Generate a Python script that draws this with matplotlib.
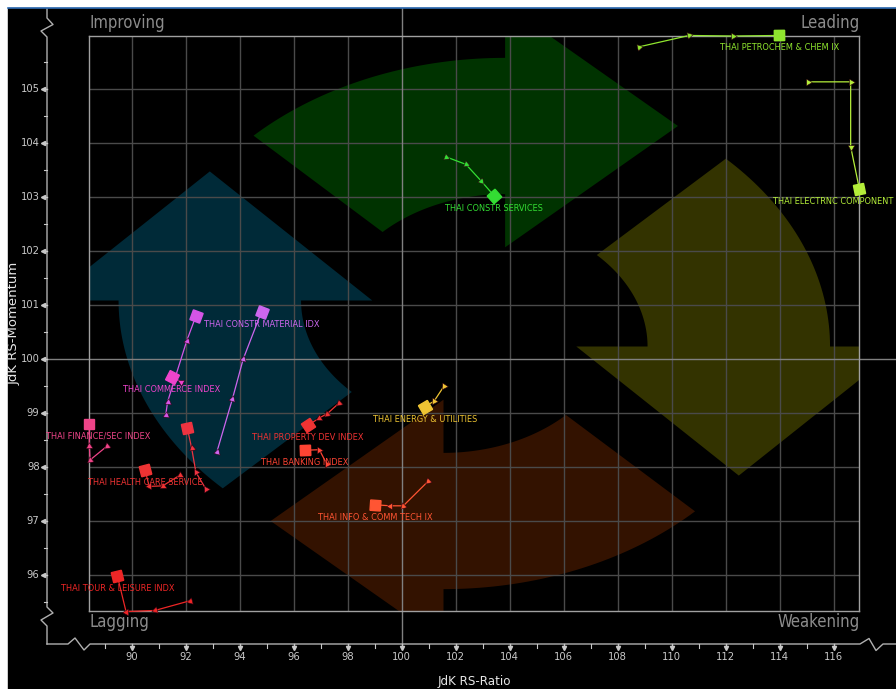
import numpy as np
import matplotlib
matplotlib.use("Agg")
import matplotlib.pyplot as plt
from matplotlib import font_manager, transforms
from matplotlib.patches import Polygon, Rectangle
from matplotlib.lines import Line2D

# narrow font for the Bloomberg look, fall back to condensed DejaVu
font_names = {f.name for f in font_manager.fontManager.ttflist}
if "Liberation Sans Narrow" in font_names:
    NARROW = dict(family="Liberation Sans Narrow")
else:
    NARROW = dict(family="DejaVu Sans", stretch="condensed")

# ---- data: JdK RS-Ratio / RS-Momentum tails (oldest -> latest) ----
series_names = [
    "THAI PETROCHEM & CHEM IX",
    "THAI ELECTRNC COMPONENT",
    "THAI CONSTR SERVICES",
    "THAI CONSTR MATERIAL IDX",
    None,
    "THAI COMMERCE INDEX",
    "THAI FINANCE/SEC INDEX",
    "THAI HEALTH CARE SERVICE",
    None,
    "THAI PROPERTY DEV INDEX",
    "THAI BANKING INDEX",
    "THAI ENERGY & UTILITIES",
    "THAI INFO & COMM TECH IX",
    "THAI TOUR & LEISURE INDX",
]
rs_ratio = [
    [108.80, 110.65, 112.28, 113.99],
    [115.06, 116.63, 116.63, 116.95],
    [101.64, 102.38, 102.93, 103.42],
    [93.15, 93.73, 94.13, 94.81],
    [91.26, 91.33, 92.04, 92.38],
    [91.83, 91.48],
    [89.07, 88.46, 88.43, 88.43],
    [91.79, 91.15, 90.65, 90.49],
    [92.75, 92.38, 92.22, 92.06],
    [97.69, 97.25, 96.95, 96.53],
    [97.22, 96.95, 96.42],
    [101.57, 101.20, 100.86],
    [100.99, 100.06, 99.57, 99.01],
    [92.16, 90.86, 89.79, 89.47],
]
rs_momentum = [
    [105.79, 106.00, 105.99, 106.00],
    [105.14, 105.14, 103.94, 103.16],
    [103.75, 103.61, 103.31, 103.03],
    [98.27, 99.26, 100.00, 100.88],
    [98.96, 99.21, 100.34, 100.80],
    [99.58, 99.67],
    [98.38, 98.13, 98.39, 98.80],
    [97.85, 97.65, 97.64, 97.95],
    [97.59, 97.90, 98.35, 98.72],
    [99.19, 98.99, 98.91, 98.77],
    [98.06, 98.32, 98.31],
    [99.50, 99.22, 99.12],
    [97.74, 97.28, 97.28, 97.30],
    [95.52, 95.34, 95.32, 95.98],
]
x_ticks = list(range(90, 117, 2))
y_ticks = list(range(96, 106))

# styles
colors = ["#8fe62e", "#b4ee3a", "#33dd33", "#cc66ee", "#d455e6", "#ee44cc", "#ee4488",
          "#ee3333", "#ee3340", "#ee3333", "#ff4433", "#eec433", "#ff5533", "#ee2626"]
label_dx = {1: -19, 6: 6.5}  # points, nudge labels kept inside the picture
arrow_colors = ["#003300", "#333300", "#331200", "#002a38"]  # top, right, bottom, left

W_PX, H_PX = 896, 689
L, B, W, H = 89.3, 611.0, 770.0, 575.0  # plot frame in pixels


def ax_x(px):
    return (px - L) / W


def ax_y(py):
    return (B - py) / H


fig = plt.figure(figsize=(W_PX / 100, H_PX / 100), dpi=100, facecolor="white")
fig.add_artist(Rectangle((8 / W_PX, 0), 1, (H_PX - 8) / H_PX, transform=fig.transFigure,
                         color="black", zorder=-10))
fig.add_artist(Line2D([8 / W_PX, 1], [(H_PX - 7.5) / H_PX] * 2, transform=fig.transFigure,
                      color="#2f6db5", lw=1.2))

ax = fig.add_axes([L / W_PX, (H_PX - B) / H_PX, W / W_PX, H / H_PX])
ax.set_facecolor("black")
ax.set_xlim(88.43, 116.95)
ax.set_ylim(95.33, 105.99)
ax.set_xticks([])
ax.set_yticks([])
for s in ax.spines.values():
    s.set_color("#a0a0a0")
    s.set_linewidth(1.0)


# rotating arrows, built in axes fraction and turned clockwise by 90 deg each
def arrow_points(k):
    cx = 0.04
    r_in, r_out = 0.225, 0.462
    mid = (r_in + r_out) / 2
    t = np.radians(np.linspace(135, 90, 40))
    outer = np.column_stack([cx + r_out * np.cos(t), r_out * np.sin(t)])
    head = np.array([[cx, mid + 0.211], [cx + 0.2245, mid], [cx, mid - 0.211]])
    inner = np.column_stack([cx + r_in * np.cos(t[::-1]), r_in * np.sin(t[::-1])])
    pts = np.vstack([outer, head, inner])
    for _ in range(k):
        pts = np.column_stack([pts[:, 1], -pts[:, 0]])
    return pts + 0.5


for k, c in enumerate(arrow_colors):
    ax.add_patch(Polygon(arrow_points(k), closed=True, transform=ax.transAxes,
                         fc=c, ec="none", zorder=0.5))

# grid
for v in x_ticks:
    if v != 100:
        ax.axvline(v, color="#4a4a4a", lw=1, zorder=1)
for v in y_ticks:
    if v != 100:
        ax.axhline(v, color="#4a4a4a", lw=1, zorder=1)
vx = transforms.blended_transform_factory(ax.transData, ax.transAxes)
hy = transforms.blended_transform_factory(ax.transAxes, ax.transData)
ax.plot([100, 100], [ax_y(8), ax_y(644)], transform=vx, color="#808080", lw=1,
        clip_on=False, zorder=1.2)
ax.plot([ax_x(47), ax_x(896)], [100, 100], transform=hy, color="#808080", lw=1,
        clip_on=False, zorder=1.2)

# outer axis lines with break marks
ya = [47, 47, 53, 41, 47, 47, 53, 41, 47, 47]
yb = [9, 18, 24.5, 31, 37, 607, 613, 620, 626, 644]
ax.plot([ax_x(p) for p in ya], [ax_y(p) for p in yb], transform=ax.transAxes,
        color="#b0b0b0", lw=1, clip_on=False)
xa = [47, 68, 75, 84, 90, 860, 869, 876, 883, 896]
xb = [644, 644, 638, 650, 644, 644, 638.5, 650.5, 644, 644]
ax.plot([ax_x(p) for p in xa], [ax_y(p) for p in xb], transform=ax.transAxes,
        color="#b0b0b0", lw=1, clip_on=False)

tick_col = "#c8c8c8"
for v in y_ticks:
    ax.plot([ax_x(43), ax_x(47)], [v, v], transform=hy, color=tick_col, lw=1, clip_on=False)
    ax.plot(ax_x(43), v, transform=hy, marker="<", ms=3, color=tick_col, clip_on=False)
    ax.text(ax_x(39.5), v, str(v), transform=hy, ha="right", va="center",
            fontsize=8, color=tick_col, **NARROW)
for v in np.arange(95.5, 106, 1.0):
    ax.plot([ax_x(44), ax_x(47)], [v, v], transform=hy, color=tick_col, lw=0.8, clip_on=False)
for v in x_ticks:
    ax.plot([v, v], [ax_y(644), ax_y(647)], transform=vx, color=tick_col, lw=1, clip_on=False)
    ax.plot(v, ax_y(647.5), transform=vx, marker="v", ms=3, color=tick_col, clip_on=False)
    ax.text(v, ax_y(657), str(v), transform=vx, ha="center", va="center",
            fontsize=8, color=tick_col, **NARROW)
for v in range(89, 117, 2):
    ax.plot([v, v], [ax_y(644), ax_y(648)], transform=vx, color=tick_col, lw=0.8, clip_on=False)

# axis titles and quadrant names
ax.text(ax_x(14), 0.5, "JdK RS-Momentum", transform=ax.transAxes, rotation=90,
        ha="center", va="center", fontsize=9.5, color="#e6e6e6")
ax.text(0.5, ax_y(682), "JdK RS-Ratio", transform=ax.transAxes, ha="center",
        va="center", fontsize=9.5, color="#e6e6e6", **NARROW)
quad_col = "#8c8c8c"
ax.text(0, ax_y(23), "Improving", transform=ax.transAxes, ha="left", va="center",
        fontsize=12, color=quad_col, **NARROW)
ax.text(1, ax_y(23), "Leading", transform=ax.transAxes, ha="right", va="center",
        fontsize=12, color=quad_col, **NARROW)
ax.text(0, ax_y(622), "Lagging", transform=ax.transAxes, ha="left", va="center",
        fontsize=12, color=quad_col, **NARROW)
ax.text(1, ax_y(622), "Weakening", transform=ax.transAxes, ha="right", va="center",
        fontsize=12, color=quad_col, **NARROW)


# direction of travel at each point, in screen space
def directions(xs, ys):
    pts = ax.transData.transform(np.column_stack([xs, ys]))
    d = np.diff(pts, axis=0)
    ang = np.degrees(np.arctan2(d[:, 1], d[:, 0]))
    return np.concatenate([[ang[0]], ang])


for i, name in enumerate(series_names):
    xs, ys, col = rs_ratio[i], rs_momentum[i], colors[i]
    ang = directions(xs, ys)
    ax.plot(xs, ys, color=col, lw=0.9, clip_on=False, zorder=3)
    for x, y, a in zip(xs[:-1], ys[:-1], ang[:-1]):
        ax.plot(x, y, marker=(3, 0, a - 90), ms=5.5, color=col, mec="#300010", mew=0.4,
                clip_on=False, zorder=4)
    ax.plot(xs[-1], ys[-1], marker=(4, 0, ang[-1] + 45), ms=10.5, color=col,
            clip_on=False, zorder=4)
    if name:
        ax.annotate(name, (xs[-1], ys[-1]), xytext=(label_dx.get(i, 0), -9),
                    textcoords="offset points", ha="center", va="center",
                    fontsize=6.6, color=col, zorder=5, annotation_clip=False, **NARROW)

plt.savefig("out.png", dpi=100, facecolor=fig.get_facecolor())
